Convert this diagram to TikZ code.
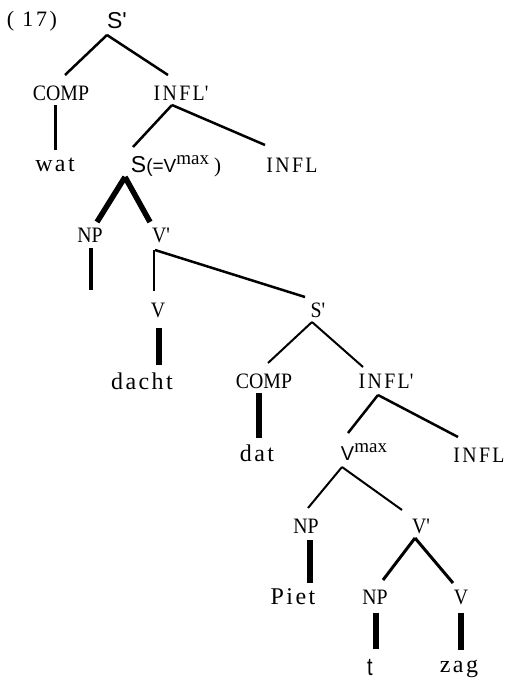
\documentclass[tikz,border=0pt]{standalone}
\usepackage{fontspec}
\setmainfont{Liberation Serif}
\newfontfamily\sansf{Liberation Sans}
\newfontfamily\spacedf[LetterSpace=10]{Liberation Serif}
\newfontfamily\inflf[LetterSpace=12]{Liberation Serif}
\newcommand{\ap}{\textquotesingle}
\begin{document}
\begin{tikzpicture}[x=1pt,y=-1pt,
  lab/.style={inner sep=0pt, font=\fontsize{22}{22}\selectfont, xscale=0.9, transform shape},
  wordlab/.style={inner sep=0pt, font=\spacedf\fontsize{24}{24}\selectfont},
  infl/.style={inner sep=0pt, font=\inflf\fontsize{22}{22}\selectfont, xscale=0.9, transform shape},
  br/.style={line width=2.5pt},
  thin/.style={line width=2pt},
  thick/.style={line width=5.5pt},
  mid/.style={line width=3pt}]
\useasboundingbox (0,0) rectangle (506,683);
% nodes
\node[inner sep=0pt, font=\inflf\fontsize{22}{22}\selectfont] (n17) at (32,21) {( 17)};
\node[inner sep=0pt, font=\sansf\fontsize{23}{23}\selectfont] (S0) at (117,21) {S\ap};
\node[lab] (COMP1) at (61,93) {COMP};
\node[infl] (INFLp1) at (181,93) {INFL\ap};
\node[wordlab] (wat) at (55,165) {wat};
\node[inner sep=0pt] (SV) at (176,166) {{\sansf\fontsize{23}{23}\selectfont S}{\sansf\fontsize{19}{19}\selectfont (=V}\raisebox{8pt}{\fontsize{19}{19}\selectfont max}\hspace{5pt}{\fontsize{21}{21}\selectfont )}};
\node[infl] (INFL1) at (292,165) {INFL};
\node[lab] (NP1) at (90,235) {NP};
\node[lab] (Vp1) at (161,235) {V\ap};
\coordinate (np1end) at (91,290);
\node[lab] (V1) at (158,310) {V};
\node[infl] (Sp2) at (318,310) {S\ap};
\node[wordlab] (dacht) at (142,381) {dacht};
\node[lab] (COMP2) at (264,381) {COMP};
\node[infl] (INFLp2) at (386,381) {INFL\ap};
\node[wordlab] (dat) at (257,453) {dat};
\node[inner sep=0pt] (Vmax) at (364,452) {{\sansf\fontsize{20}{20}\selectfont V}\raisebox{8pt}{\fontsize{19}{19}\selectfont max}};
\node[infl] (INFL2) at (479,455) {INFL};
\node[lab] (NP2) at (306,526) {NP};
\node[lab] (Vp2) at (421,526) {V\ap};
\node[wordlab] (Piet) at (293,597) {Piet};
\node[lab] (NP3) at (375,597) {NP};
\node[lab] (V3) at (461,597) {V};
\node[inner sep=0pt, font=\sansf\fontsize{25}{25}\selectfont, xscale=0.8, transform shape] (t) at (370,668) {t};
\node[wordlab] (zag) at (459,669) {zag};
% connectors
\draw[br] ([shift={(-10,14)}]S0.center) -- ([shift={(4,-18)}]COMP1.center);
\draw[br] ([shift={(-10,14)}]S0.center) -- ([shift={(-13,-18)}]INFLp1.center);
\draw[mid] ([shift={(-6,12)}]COMP1.center) -- ([shift={(0,-15)}]wat.center);
\draw[br] ([shift={(-9,12)}]INFLp1.center) -- ([shift={(-43,-19)}]SV.center);
\draw[br] ([shift={(-9,12)}]INFLp1.center) -- ([shift={(-27,-20)}]INFL1.center);
\draw[thick] ([shift={(-51,11)}]SV.center) -- ([shift={(7,-13)}]NP1.center);
\draw[thick] ([shift={(-51,11)}]SV.center) -- ([shift={(-11,-13)}]Vp1.center);
\draw[line width=3.5pt] ([shift={(1,13)}]NP1.center) -- (np1end);
\draw[thin] ([shift={(-7,15)}]Vp1.center) -- ([shift={(-4,-19)}]V1.center);
\draw[br] ([shift={(-6,15)}]Vp1.center) -- ([shift={(-13,-13)}]Sp2.center);
\draw[thick] ([shift={(1,18)}]V1.center) -- ([shift={(17,-16)}]dacht.center);
\draw[thin] ([shift={(-6,12)}]Sp2.center) -- ([shift={(4,-18)}]COMP2.center);
\draw[thin] ([shift={(-6,12)}]Sp2.center) -- ([shift={(-23,-14)}]INFLp2.center);
\draw[line width=6pt] ([shift={(-5,12)}]COMP2.center) -- ([shift={(2,-15)}]dat.center);
\draw[br] ([shift={(-8,14)}]INFLp2.center) -- ([shift={(-16,-19)}]Vmax.center);
\draw[br] ([shift={(-8,14)}]INFLp2.center) -- ([shift={(-21,-18)}]INFL2.center);
\draw[thin] ([shift={(-22,15)}]Vmax.center) -- ([shift={(2,-18)}]NP2.center);
\draw[thin] ([shift={(-22,15)}]Vmax.center) -- ([shift={(-19,-16)}]Vp2.center);
\draw[line width=6pt] ([shift={(4,14)}]NP2.center) -- ([shift={(17,-14)}]Piet.center);
\draw[mid] ([shift={(-6,12)}]Vp2.center) -- ([shift={(8,-17)}]NP3.center);
\draw[mid] ([shift={(-6,12)}]Vp2.center) -- ([shift={(-8,-14)}]V3.center);
\draw[line width=6pt] ([shift={(1,16)}]NP3.center) -- ([shift={(6,-19)}]t.center);
\draw[line width=6pt] ([shift={(0,16)}]V3.center) -- ([shift={(2,-19)}]zag.center);
\end{tikzpicture}
\end{document}
